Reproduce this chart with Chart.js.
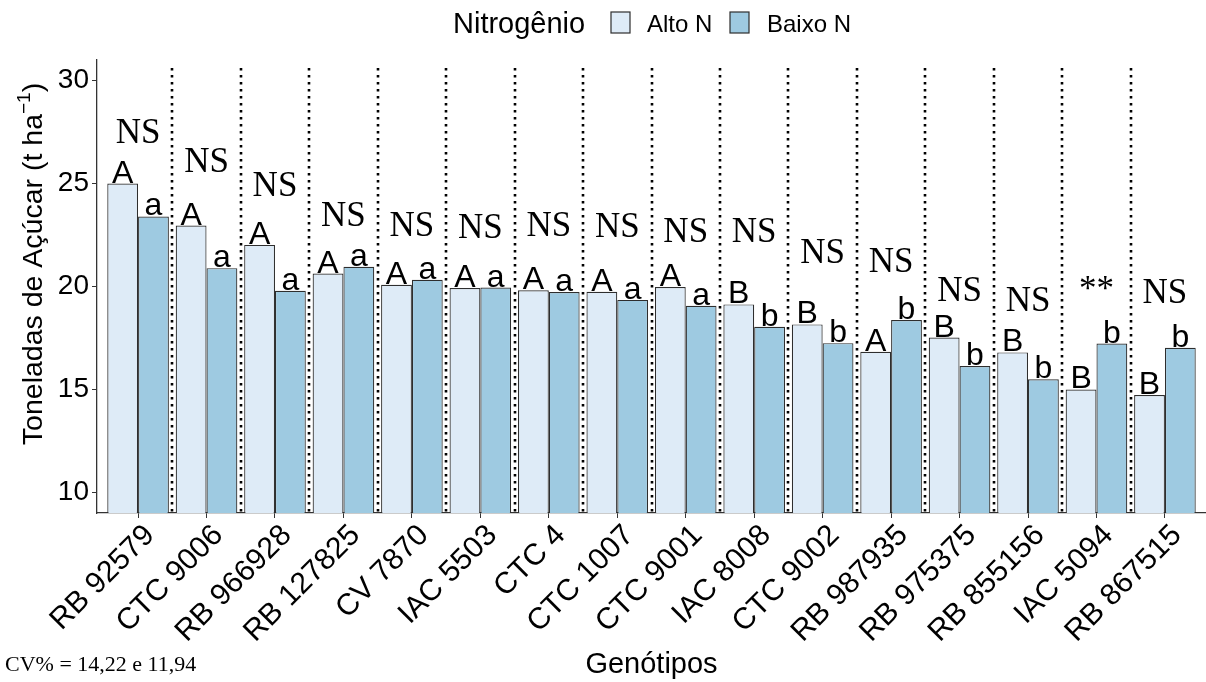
<!DOCTYPE html>
<html>
<head>
<meta charset="utf-8">
<script src="https://cdn.jsdelivr.net/npm/chart.js@4/dist/chart.umd.min.js"></script>
<style>
  html, body { margin: 0; padding: 0; background: #ffffff; }
  #wrap { width: 1206px; height: 682px; position: relative; }
</style>
</head>
<body>
<div id="wrap"><canvas id="c" width="1206" height="682"></canvas></div>
<script>
// ---- data ----
const categories = ["RB 92579", "CTC 9006", "RB 966928", "RB 127825", "CV 7870", "IAC 5503", "CTC 4", "CTC 1007",
  "CTC 9001", "IAC 8008", "CTC 9002", "RB 987935", "RB 975375", "RB 855156", "IAC 5094", "RB 867515"];
const altoN  = [25.0, 22.96, 22.02, 20.63, 20.08, 19.93, 19.82, 19.74, 19.97, 19.13, 18.16, 16.83, 17.52, 16.80, 15.00, 14.73];
const baixoN = [23.40, 20.89, 19.79, 20.96, 20.33, 19.95, 19.73, 19.35, 19.06, 18.04, 17.25, 18.37, 16.14, 15.49, 17.23, 17.02];
const lettersAlto  = ["A","A","A","A","A","A","A","A","A","B","B","A","B","B","B","B"];
const lettersBaixo = ["a","a","a","a","a","a","a","a","a","b","b","b","b","b","b","b"];
const sigLabels = ["NS","NS","NS","NS","NS","NS","NS","NS","NS","NS","NS","NS","NS","NS","**","NS"];
const sigY = [27.53, 26.14, 24.96, 23.48, 23.03, 22.91, 23.03, 22.95, 22.71, 22.71, 21.70, 21.26, 19.88, 19.39, 19.89, 19.77];
const yTicks = [10, 15, 20, 25, 30];
const seriesNames = ["Alto N", "Baixo N"];
const legendTitle = "Nitrogênio";
const xTitle = "Genótipos";
const cvText = "CV% = 14,22 e 11,94";

// ---- styles ----
const SANS = "'Liberation Sans', Arial, Helvetica, sans-serif";
const SERIF = "'Liberation Serif', 'Times New Roman', serif";
const colAlto = "#deebf7";
const colBaixo = "#9ecae1";
const edge = "#2e2e2e";
const axisCol = "#333333";

const annot = {
  id: "annot",
  beforeDatasetsDraw(chart) {
    const {ctx, chartArea, scales: {x}} = chart;
    ctx.save();
    ctx.strokeStyle = "#000";
    ctx.lineWidth = 2.6;
    ctx.setLineDash([2.6, 4.4]);
    for (let i = 0; i < categories.length - 1; i++) {
      const px = Math.round(x.getPixelForValue(i + 0.5)) ;
      ctx.beginPath();
      ctx.moveTo(px, chartArea.top + 8);
      ctx.lineTo(px, chartArea.bottom);
      ctx.stroke();
    }
    ctx.restore();
  },
  afterDatasetsDraw(chart) {
    const {ctx, scales: {x, y}} = chart;
    const m0 = chart.getDatasetMeta(0), m1 = chart.getDatasetMeta(1);
    ctx.save();
    ctx.fillStyle = "#000";
    ctx.textAlign = "center";
    ctx.textBaseline = "alphabetic";
    ctx.font = "32px " + SANS;
    for (let i = 0; i < categories.length; i++) {
      const b0 = m0.data[i], b1 = m1.data[i];
      ctx.fillText(lettersAlto[i], b0.x, b0.y - 1);
      ctx.fillText(lettersBaixo[i], b1.x, b1.y - 1);
    }
    ctx.font = "35px " + SERIF;
    for (let i = 0; i < categories.length; i++) {
      const cx = x.getPixelForValue(i);
      const cy = y.getPixelForValue(sigY[i]) + 11.6;
      ctx.fillText(sigLabels[i], cx, cy);
    }
    ctx.restore();
  },
  afterDraw(chart) {
    const {ctx} = chart;
    ctx.save();
    // legend
    ctx.fillStyle = "#000";
    ctx.textBaseline = "alphabetic";
    ctx.textAlign = "left";
    ctx.font = "29px " + SANS;
    ctx.fillText(legendTitle, 453, 33);
    const boxes = [{bx: 611, tx: 647}, {bx: 730, tx: 767}];
    chart.data.datasets.forEach((ds, k) => {
      ctx.fillStyle = ds.backgroundColor;
      ctx.fillRect(boxes[k].bx, 12, 19, 21);
      ctx.strokeStyle = edge;
      ctx.lineWidth = 1.2;
      ctx.strokeRect(boxes[k].bx, 12, 19, 21);
      ctx.fillStyle = "#000";
      ctx.font = "24px " + SANS;
      ctx.fillText(ds.label, boxes[k].tx, 32);
    });
    // y title with superscript
    ctx.save();
    ctx.translate(42, 264);
    ctx.rotate(-Math.PI / 2);
    const mainTxt = "Toneladas de Açúcar (t ha";
    const supTxt = "\u22121";
    const endTxt = ")";
    ctx.font = "28.5px " + SANS;
    const w1 = ctx.measureText(mainTxt).width;
    const w3 = ctx.measureText(endTxt).width;
    ctx.font = "19px " + SANS;
    const w2 = ctx.measureText(supTxt).width;
    let sx = -(w1 + w2 + w3) / 2;
    ctx.font = "28.5px " + SANS;
    ctx.fillText(mainTxt, sx, 0);
    sx += w1;
    ctx.font = "19px " + SANS;
    ctx.fillText(supTxt, sx, -12);
    sx += w2;
    ctx.font = "28.5px " + SANS;
    ctx.fillText(endTxt, sx, 0);
    ctx.restore();
    // CV note
    ctx.font = "22px " + SERIF;
    ctx.fillStyle = "#000";
    ctx.textAlign = "left";
    ctx.fillText(cvText, 5, 671);
    ctx.restore();
  }
};

new Chart(document.getElementById("c"), {
  type: "bar",
  data: {
    datasets: [
      { label: seriesNames[0], data: altoN.map((v, i) => ({x: i, y: v})), backgroundColor: colAlto, borderColor: edge, borderWidth: 1.2 },
      { label: seriesNames[1], data: baixoN.map((v, i) => ({x: i, y: v})), backgroundColor: colBaixo, borderColor: edge, borderWidth: 1.2 }
    ]
  },
  options: {
    responsive: false,
    animation: false,
    devicePixelRatio: 1,
    layout: { padding: { top: 60, right: 0, left: 0, bottom: 0 } },
    datasets: { bar: { categoryPercentage: 0.9, barPercentage: 1.0 } },
    plugins: { legend: { display: false }, tooltip: { enabled: false }, title: { display: false } },
    scales: {
      x: {
        type: "linear",
        offset: false,
        min: -0.6,
        max: 15.6,
        afterBuildTicks: (s) => { s.ticks = categories.map((c, i) => ({value: i})); },
        afterFit: (s) => { s.height = 169; },
        ticks: {
          autoSkip: false,
          maxRotation: 45,
          minRotation: 45,
          padding: 0,
          labelOffset: 12,
          color: "#000",
          font: { family: SANS, size: 30 },
          callback: (v) => categories[v]
        },
        grid: { display: true, offset: false, drawOnChartArea: false, drawTicks: true, tickLength: 5, color: axisCol },
        border: { display: true, color: axisCol, width: 1.3 },
        title: { display: true, text: xTitle, color: "#000", font: { family: SANS, size: 29 }, padding: { top: 0, bottom: 0 } }
      },
      y: {
        min: 9,
        max: 31,
        afterBuildTicks: (s) => { s.ticks = yTicks.map(v => ({value: v})); },
        afterFit: (s) => { s.width = 97; },
        ticks: { padding: 3, color: "#000", font: { family: SANS, size: 28 } },
        grid: { display: true, drawOnChartArea: false, drawTicks: true, tickLength: 5, color: axisCol },
        border: { display: true, color: axisCol, width: 1.3 },
        title: { display: false }
      }
    }
  },
  plugins: [annot]
});
</script>
</body>
</html>
